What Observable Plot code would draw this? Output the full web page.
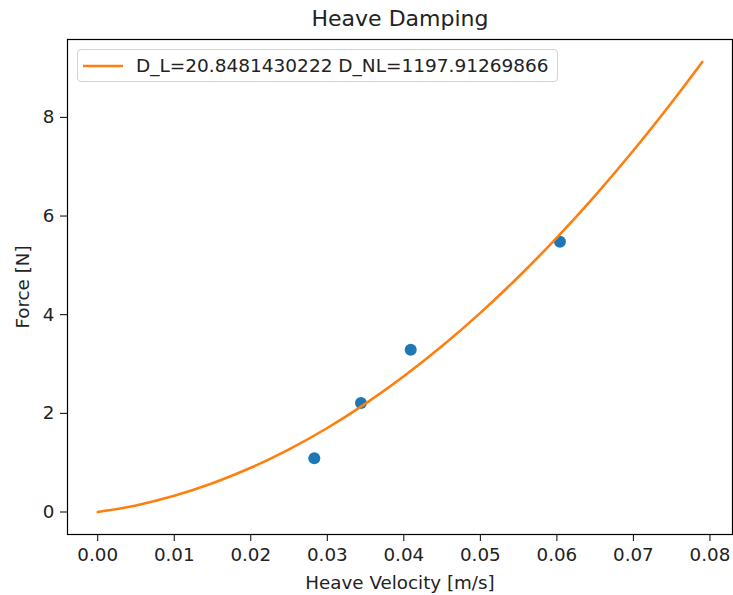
<!DOCTYPE html>
<html>
<head>
<meta charset="utf-8">
<script src="https://cdn.jsdelivr.net/npm/d3@7"></script>
<script src="https://cdn.jsdelivr.net/npm/@observablehq/plot@0.6"></script>
<style>
  html, body { margin: 0; padding: 0; background: white; }
  #wrap { position: relative; width: 733px; height: 595px; font-family: "DejaVu Sans", sans-serif; }
  #legend {
    position: absolute; left: 77px; top: 49px; width: 481px; height: 33px;
    box-sizing: border-box; border: 1px solid #d3d3d3; border-radius: 4px;
    background: rgba(255,255,255,0.8); font-size: 18.5px; color: #222;
    display: flex; align-items: center;
  }
  #legend svg { margin-left: 5px; margin-right: 13px; }
</style>
</head>
<body>
<div id="wrap"></div>
<script>
const title = "Heave Damping";
const xLabel = "Heave Velocity [m/s]";
const yLabel = "Force [N]";
const legendLabel = "D_L=20.8481430222 D_NL=1197.91269866";

// measured points
const velocity = [0.0283, 0.0344, 0.0409, 0.0604];
const force = [1.09, 2.21, 3.29, 5.48];

// fitted curve
const fitVelocity = [0, 0.005, 0.01, 0.015, 0.02, 0.025, 0.03, 0.035, 0.04, 0.045, 0.05, 0.055, 0.06, 0.065, 0.07, 0.075, 0.079];
const fitForce = [0, 0.134, 0.328, 0.582, 0.896, 1.270, 1.703, 2.197, 2.751, 3.364, 4.037, 4.770, 5.563, 6.416, 7.329, 8.302, 9.123];

const xTicks = [0, 0.01, 0.02, 0.03, 0.04, 0.05, 0.06, 0.07, 0.08];
const yTicks = [0, 2, 4, 6, 8];

const pts = velocity.map((v, i) => ({v, f: force[i]}));
const fit = fitVelocity.map((v, i) => ({v, f: fitForce[i]}));

const chart = Plot.plot({
  width: 733,
  height: 595,
  marginLeft: 67,
  marginRight: 1,
  marginTop: 39,
  marginBottom: 61,
  style: {fontFamily: "DejaVu Sans, sans-serif", fontSize: "18px", color: "#222", background: "white"},
  x: {domain: [-0.00395, 0.08295]},
  y: {domain: [-0.456, 9.579]},
  marks: [
    Plot.dot(pts, {x: "v", y: "f", r: 6, fill: "#1f77b4", stroke: "none"}),
    Plot.line(fit, {x: "v", y: "f", stroke: "#ff7f0e", strokeWidth: 2.6, curve: "catmull-rom"}),
    Plot.frame({stroke: "black", strokeWidth: 1.2}),
    Plot.axisX(xTicks, {tickFormat: d3.format(".2f"), tickSize: 7, tickPadding: 6, stroke: "black",
      label: xLabel, labelAnchor: "center", labelArrow: "none", labelOffset: 54, fontSize: 18.3}),
    Plot.axisY(yTicks, {tickFormat: d3.format("d"), tickSize: 7, tickPadding: 6, stroke: "black",
      label: yLabel, labelAnchor: "center", labelArrow: "none", labelOffset: 52, fontSize: 18.3}),
    Plot.text([title], {frameAnchor: "top", lineAnchor: "middle", dy: -21, fontSize: 22, fill: "#222"})
  ]
});

const wrap = document.getElementById("wrap");
wrap.appendChild(chart);

const legend = document.createElement("div");
legend.id = "legend";
legend.innerHTML = '<svg width="40" height="6"><line x1="0" y1="3" x2="40" y2="3" stroke="#ff7f0e" stroke-width="2.6"/></svg><span></span>';
legend.querySelector("span").textContent = legendLabel;
wrap.appendChild(legend);
</script>
</body>
</html>
